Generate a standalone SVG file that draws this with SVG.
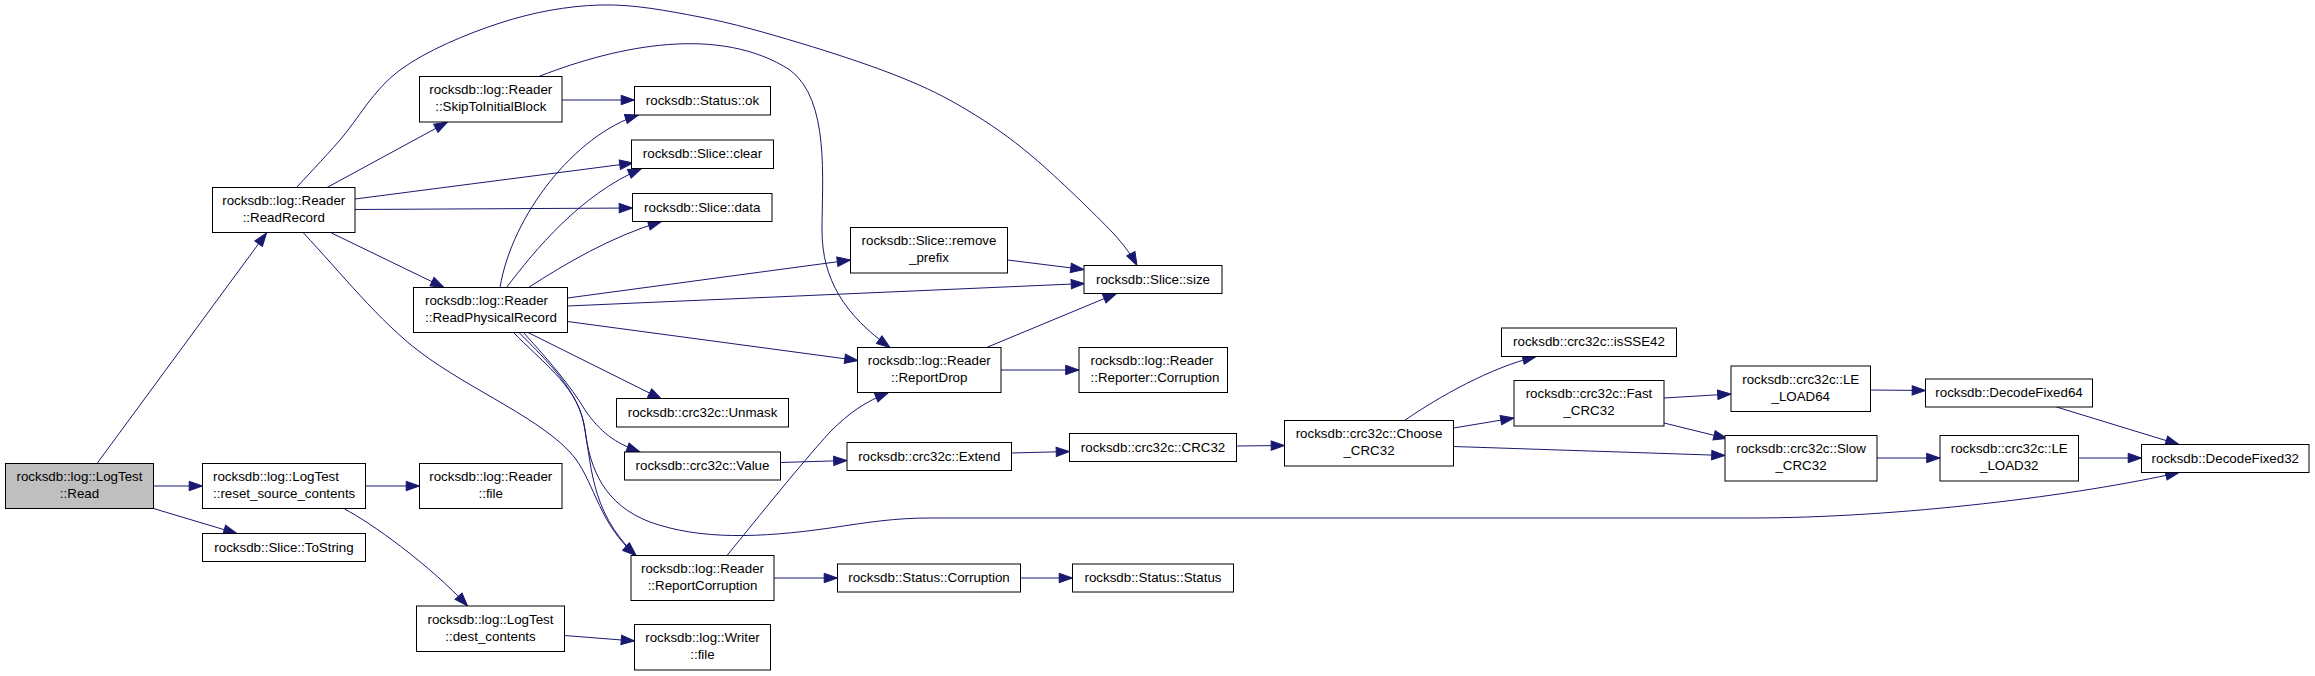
<svg xmlns="http://www.w3.org/2000/svg" width="2315" height="676" viewBox="0 0 2315 676">
<defs>
<style>
.e path{fill:none;stroke:#191970;stroke-width:1;marker-end:url(#arr)}
.n rect{fill:#fff;stroke:#000;stroke-width:1}
.n.root rect{fill:#bfbfbf}
.n text{font-family:"Liberation Sans",Arial,Helvetica,sans-serif;font-size:13.33px;fill:#000;text-anchor:middle}
.n text.l{text-anchor:start}
</style>
<marker id="arr" markerUnits="userSpaceOnUse" markerWidth="14" markerHeight="10" refX="13.3" refY="4.7" orient="auto" overflow="visible">
<path d="M0,0 L13.3,4.7 L0,9.4 Z" fill="#191970" stroke="#191970" stroke-width="1"/>
</marker>
</defs>
<rect width="2315" height="676" fill="#fff"/>
<g id="edges" class="e">
<path d="M97,463.5 L266.5,233"/>
<path d="M153.5,486 L202.5,486"/>
<path d="M153.5,508.5 L237,533.5"/>
<path d="M365.5,486 L419.5,486"/>
<path d="M344.5,509 C370,522 430,565 467.5,606"/>
<path d="M564.5,635.5 L634.5,641"/>
<path d="M327,187.5 L447.5,122"/>
<path d="M355,199 L633,163"/>
<path d="M355,209.5 L632.5,208"/>
<path d="M331.5,233 L444,287.5"/>
<path d="M296.5,187.5 C303.75,179.6 322.75,159.6 340,140 C357.25,120.4 373.3,89.5 400,70 C426.7,50.5 466.7,33.8 500,23 C533.3,12.2 566.7,6 600,5 C633.3,4 666.7,10.7 700,17 C733.3,23.3 766.7,33 800,43 C833.3,53 872.2,65.8 900,77 C927.8,88.2 944.8,96.7 967,110 C989.2,123.3 1008.7,136.5 1033,157 C1057.3,177.5 1095.7,214.9 1113,233 C1124,245 1132,256 1137,265.5"/>
<path d="M303.5,233 C340,272 380,322 420,352 C470,390 545,420 575,458 C595,485 600,525 636,555.5"/>
<path d="M513.5,332.5 C540,360 575,385 583,420 C592,460 588,510 636,555.5"/>
<path d="M519,332.5 C548,362 580,392 585,430 C590,470 605,505 650,522 C700,540 760,538 830,528 C870,522 895,518 930,518 L1750,518 C1900,518 2080,495 2179,472.5"/>
<path d="M523.5,332.5 C550,362 570,385 585,410 C600,432 615,443 640,452"/>
<path d="M528,332.5 L661.5,399"/>
<path d="M500,287.5 C512,215 575,135 638.5,115"/>
<path d="M506.5,287.5 C535,250 580,195 641.5,168.5"/>
<path d="M528.5,287.5 C565,264 610,237 661.5,221.5"/>
<path d="M567.5,298 L850.5,260"/>
<path d="M567.5,306 L1084.5,283.5"/>
<path d="M567.5,321.5 L858,360.5"/>
<path d="M562,100 L634.5,100"/>
<path d="M540,76 C620,45 720,25 790,70 C830,100 822,180 822,230 C822,280 845,315 890,347.5"/>
<path d="M986.5,347.5 L1116.5,293.5"/>
<path d="M1001,370 L1079,370"/>
<path d="M1007.5,260 L1084,269.5"/>
<path d="M780.5,462.5 L847,460.5"/>
<path d="M1011.5,453 L1069.5,451.5"/>
<path d="M1236.5,446 L1284.5,445.5"/>
<path d="M727,555.5 C760,515 800,465 830,432 C850,412 865,402 888.5,392.5"/>
<path d="M774,578 L837.5,578"/>
<path d="M1020.5,578 L1072.5,578"/>
<path d="M1404.5,420.5 C1440,396 1490,368 1536,356.5"/>
<path d="M1453.5,428 L1514,418"/>
<path d="M1453.5,446.5 L1725,455.5"/>
<path d="M1664,398 L1731,394"/>
<path d="M1664,423 L1727,438.5"/>
<path d="M1870.5,390 L1925.5,390.5"/>
<path d="M1877,458 L1940,458"/>
<path d="M2078.5,458 L2141.5,458"/>
<path d="M2056.5,407 L2179,444.5"/>
</g>
<g id="nodes">
<g id="n_read" class="n root"><rect x="5.5" y="463.5" width="148" height="45"/><text x="79.5" y="481">rocksdb::log::LogTest</text><text x="79.5" y="498">::Read</text></g>
<g id="n_readrecord" class="n"><rect x="212.5" y="187.5" width="142.5" height="45"/><text x="283.75" y="205">rocksdb::log::Reader</text><text x="283.75" y="222">::ReadRecord</text></g>
<g id="n_reset" class="n"><rect x="202.5" y="463.5" width="163" height="45"/><text class="l" x="213" y="481">rocksdb::log::LogTest</text><text class="l" x="213" y="498">::reset_source_contents</text></g>
<g id="n_tostring" class="n"><rect x="202.5" y="533.5" width="163" height="28"/><text x="284" y="551.5">rocksdb::Slice::ToString</text></g>
<g id="n_skip" class="n"><rect x="419.5" y="76.5" width="142.5" height="45.5"/><text x="490.75" y="94">rocksdb::log::Reader</text><text x="490.75" y="111">::SkipToInitialBlock</text></g>
<g id="n_readphys" class="n"><rect x="413.5" y="287.5" width="154" height="45"/><text class="l" x="425" y="305">rocksdb::log::Reader</text><text class="l" x="425" y="322">::ReadPhysicalRecord</text></g>
<g id="n_readerfile" class="n"><rect x="419.5" y="463.5" width="142.5" height="45"/><text x="490.75" y="481">rocksdb::log::Reader</text><text x="490.75" y="498">::file</text></g>
<g id="n_dest" class="n"><rect x="416.5" y="606" width="148" height="45.5"/><text x="490.5" y="623.5">rocksdb::log::LogTest</text><text x="490.5" y="640.5">::dest_contents</text></g>
<g id="n_ok" class="n"><rect x="634.5" y="86.5" width="136" height="28.5"/><text x="702.5" y="104.5">rocksdb::Status::ok</text></g>
<g id="n_clear" class="n"><rect x="631.5" y="140" width="142" height="28.5"/><text x="702.5" y="158">rocksdb::Slice::clear</text></g>
<g id="n_data" class="n"><rect x="632.5" y="193.5" width="139.5" height="28"/><text x="702.25" y="211.5">rocksdb::Slice::data</text></g>
<g id="n_unmask" class="n"><rect x="616.5" y="398.5" width="172" height="28.5"/><text x="702.5" y="416.5">rocksdb::crc32c::Unmask</text></g>
<g id="n_value" class="n"><rect x="624.5" y="452" width="156" height="28"/><text x="702.5" y="470">rocksdb::crc32c::Value</text></g>
<g id="n_reportcorr" class="n"><rect x="631" y="555.5" width="143" height="45"/><text x="702.5" y="573">rocksdb::log::Reader</text><text x="702.5" y="590">::ReportCorruption</text></g>
<g id="n_writerfile" class="n"><rect x="634.5" y="624.5" width="136" height="45.5"/><text x="702.5" y="642">rocksdb::log::Writer</text><text x="702.5" y="659">::file</text></g>
<g id="n_removeprefix" class="n"><rect x="850.5" y="227.5" width="157" height="45.5"/><text x="929" y="245">rocksdb::Slice::remove</text><text x="929" y="262">_prefix</text></g>
<g id="n_size" class="n"><rect x="1084" y="265.5" width="138" height="28"/><text x="1153" y="283.5">rocksdb::Slice::size</text></g>
<g id="n_reportdrop" class="n"><rect x="857.5" y="347.5" width="143.5" height="45"/><text x="929.25" y="365">rocksdb::log::Reader</text><text x="929.25" y="382">::ReportDrop</text></g>
<g id="n_reportercorr" class="n"><rect x="1079" y="347.5" width="148.5" height="45"/><text class="l" x="1090.5" y="365">rocksdb::log::Reader</text><text class="l" x="1090.5" y="382">::Reporter::Corruption</text></g>
<g id="n_extend" class="n"><rect x="847" y="442.5" width="164.5" height="28"/><text x="929.25" y="460.5">rocksdb::crc32c::Extend</text></g>
<g id="n_crc32" class="n"><rect x="1069.5" y="433.5" width="167" height="28"/><text x="1153" y="451.5">rocksdb::crc32c::CRC32</text></g>
<g id="n_statuscorr" class="n"><rect x="837.5" y="564" width="183" height="28"/><text x="929" y="582">rocksdb::Status::Corruption</text></g>
<g id="n_statusstatus" class="n"><rect x="1072.5" y="564" width="161" height="28"/><text x="1153" y="582">rocksdb::Status::Status</text></g>
<g id="n_choose" class="n"><rect x="1284.5" y="420.5" width="169" height="45.5"/><text x="1369" y="438">rocksdb::crc32c::Choose</text><text x="1369" y="455">_CRC32</text></g>
<g id="n_issse42" class="n"><rect x="1501.5" y="328" width="175" height="28.5"/><text x="1589" y="346">rocksdb::crc32c::isSSE42</text></g>
<g id="n_fast" class="n"><rect x="1514" y="380.5" width="150" height="45.5"/><text x="1589" y="398">rocksdb::crc32c::Fast</text><text x="1589" y="415">_CRC32</text></g>
<g id="n_le64" class="n"><rect x="1731" y="366" width="139.5" height="45.5"/><text x="1800.75" y="383.5">rocksdb::crc32c::LE</text><text x="1800.75" y="400.5">_LOAD64</text></g>
<g id="n_slow" class="n"><rect x="1725" y="435.5" width="152" height="45.5"/><text x="1801" y="453">rocksdb::crc32c::Slow</text><text x="1801" y="470">_CRC32</text></g>
<g id="n_df64" class="n"><rect x="1925.5" y="379" width="167" height="28"/><text x="2009" y="397">rocksdb::DecodeFixed64</text></g>
<g id="n_le32" class="n"><rect x="1940" y="435.5" width="138.5" height="45.5"/><text x="2009.25" y="453">rocksdb::crc32c::LE</text><text x="2009.25" y="470">_LOAD32</text></g>
<g id="n_df32" class="n"><rect x="2141.5" y="444.5" width="167.5" height="28"/><text x="2225.25" y="462.5">rocksdb::DecodeFixed32</text></g>
</g>
</svg>
